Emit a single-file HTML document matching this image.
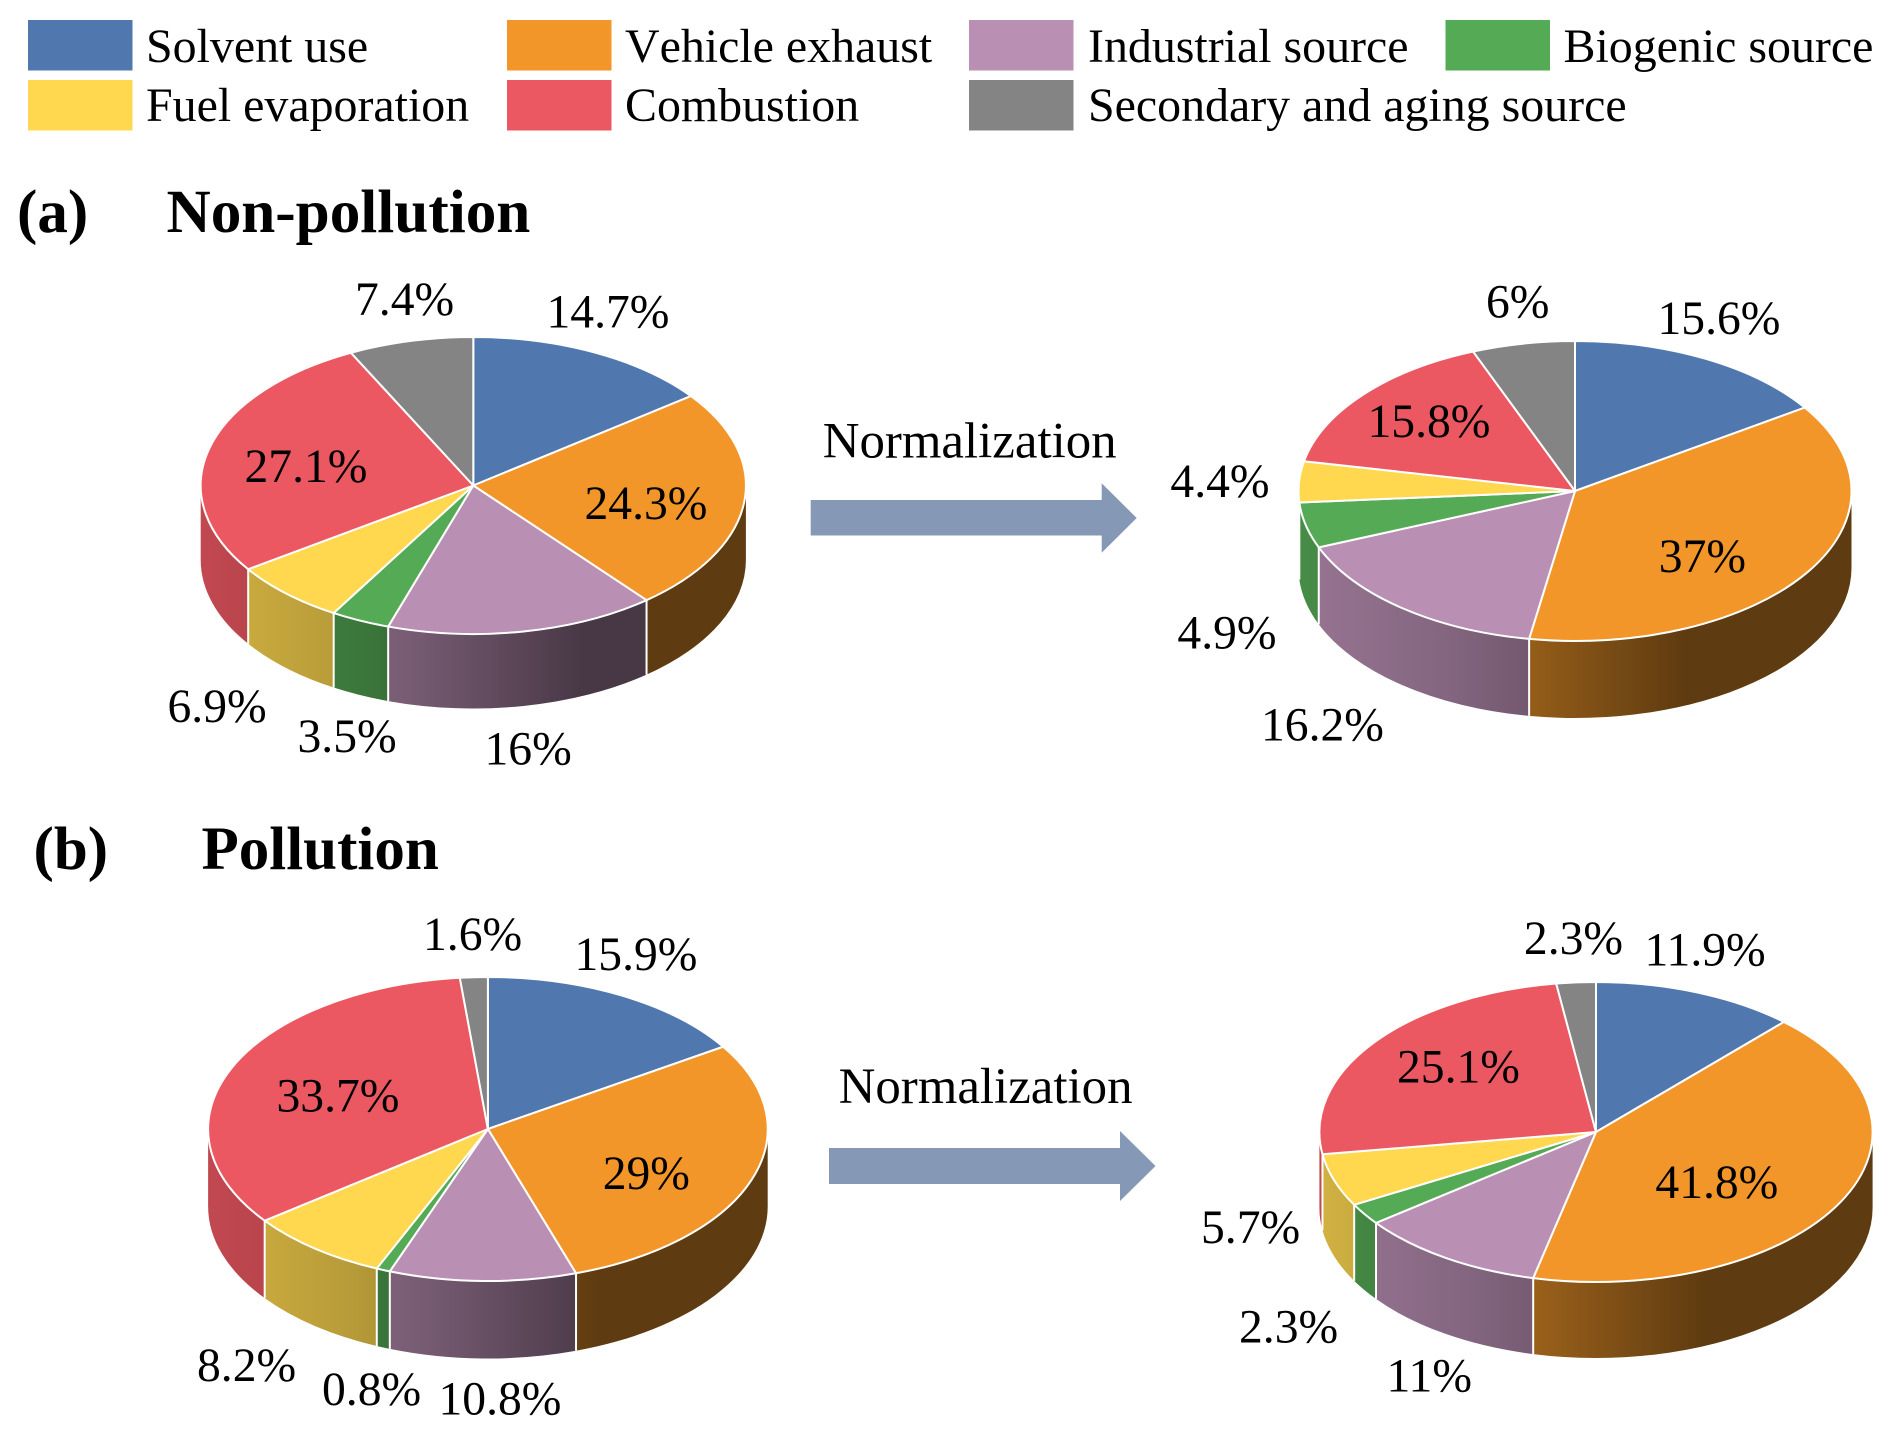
<!DOCTYPE html>
<html lang="en">
<head>
<meta charset="utf-8">
<title>Source contributions: non-pollution and pollution</title>
<style>
  html, body { margin: 0; padding: 0; background: #fff; }
  svg { display: block; }
  text { font-family: "Liberation Serif", "Times New Roman", serif; fill: #000; }
</style>
</head>
<body>
<svg id="chart" xmlns="http://www.w3.org/2000/svg" width="1892" height="1435" viewBox="0 0 1892 1435">
  <rect width="1892" height="1435" fill="#fff"/>
  <g id="legend"></g>

  <text x="17" y="232" font-size="61" font-weight="bold">(a)</text>
  <text x="166.5" y="232" font-size="61.2" font-weight="bold">Non-pollution</text>
  <text x="33.5" y="869" font-size="61" font-weight="bold">(b)</text>
  <text x="201.5" y="869" font-size="61" font-weight="bold">Pollution</text>

  <text x="822.7" y="457.5" font-size="50.9">Normalization</text>
  <polygon points="810.7,500 1101.7,500 1101.7,483.3 1136.7,518 1101.7,552.7 1101.7,535.5 810.7,535.5" fill="#8598b5"/>
  <text x="838.6" y="1103" font-size="50.9">Normalization</text>
  <polygon points="829,1148 1120,1148 1120,1131 1155.5,1166 1120,1201 1120,1184 829,1184" fill="#8598b5"/>

  <defs id="gradients"></defs>
  <g id="pies"></g>
</svg>

<script>
// ---- Data (percent share per source, clockwise from 12 o'clock) ----
const categories = ["Solvent use", "Vehicle exhaust", "Industrial source", "Biogenic source", "Fuel evaporation", "Combustion", "Secondary and aging source"];
const nonPollutionRaw = [14.7, 24.3, 16, 3.5, 6.9, 27.1, 7.4];
const nonPollutionNormalized = [15.6, 37, 16.2, 4.9, 4.4, 15.8, 6];
const pollutionRaw = [15.9, 29, 10.8, 0.8, 8.2, 33.7, 1.6];
const pollutionNormalized = [11.9, 41.8, 11, 2.3, 5.7, 25.1, 2.3];

// ---- Styling and layout ----
const palette = ["#5078ae", "#f2962a", "#b98fb3", "#55ab55", "#ffd84f", "#ec5862", "#848484"];
const legendOrder = [0, 1, 2, 3, 4, 5, 6];
const legendSlots = [
  {sx: 28, sy: 20, tx: 146, ty: 62}, {sx: 507, sy: 20, tx: 625, ty: 62, noKern: true},
  {sx: 969, sy: 20, tx: 1088, ty: 62}, {sx: 1445.5, sy: 20, tx: 1563.5, ty: 62},
  {sx: 28, sy: 80, tx: 146, ty: 121}, {sx: 507, sy: 80, tx: 625, ty: 121},
  {sx: 969, sy: 80, tx: 1088, ty: 121}
];
const shadeStops = [[0, 0.82], [0.25, 0.72], [0.4, 0.63], [0.7, 0.39], [1, 0.39]];

const pieConfigs = [
  {id: "a-raw", values: nonPollutionRaw, cx: 473.3, cy: 485.5, rx: 272.6, ry: 148.5, depth: 74.5,
   labelAt: [[546.5, 327.5], [584.5, 519], [484.5, 764.5], [297.5, 752], [167.5, 722], [244.5, 482], [355, 315]]},
  {id: "a-normalized", values: nonPollutionNormalized, cx: 1575, cy: 491, rx: 276.5, ry: 150, depth: 77,
   labelAt: [[1657.5, 334], [1658.8, 572], [1261, 740.5], [1177.4, 648.5], [1170.4, 497], [1367.5, 437], [1486, 317.5]]},
  {id: "b-raw", values: pollutionRaw, cx: 487.9, cy: 1129, rx: 279.8, ry: 152, depth: 77.5,
   labelAt: [[574.5, 970], [602.7, 1189], [438.5, 1414.7], [322, 1405], [197, 1381], [276.5, 1111.5], [423, 950]]},
  {id: "b-normalized", values: pollutionNormalized, cx: 1596, cy: 1132, rx: 276.6, ry: 150, depth: 76,
   labelAt: [[1644.5, 965.5], [1655.4, 1198], [1386.5, 1391.5], [1239, 1342.7], [1201, 1243], [1397, 1082.6], [1523.9, 954]]}
];

const NS = "http://www.w3.org/2000/svg";
function make(tag, attrs, parent) {
  const el = document.createElementNS(NS, tag);
  for (const k in attrs) el.setAttribute(k, attrs[k]);
  parent.appendChild(el);
  return el;
}
function shadeColor(hex, f) {
  const n = parseInt(hex.slice(1), 16);
  const r = Math.round(((n >> 16) & 255) * f);
  const g = Math.round(((n >> 8) & 255) * f);
  const b = Math.round((n & 255) * f);
  return "rgb(" + r + "," + g + "," + b + ")";
}
function slug(s) { return s.toLowerCase().replace(/[^a-z]+/g, "-"); }

// Legend
const legendGroup = document.getElementById("legend");
legendOrder.forEach(function (catIndex, i) {
  const slot = legendSlots[i];
  const swatch = make("rect", {x: slot.sx, y: slot.sy, width: 104.5, height: 50.5, fill: palette[catIndex]}, legendGroup);
  
  
  const label = make("text", {x: slot.tx, y: slot.ty, "font-size": 47.9}, legendGroup);
  if (slot.noKern) label.style.fontKerning = "none";
  label.textContent = categories[catIndex];
  
  
});

// Pies
const defs = document.getElementById("gradients");
const pieRoot = document.getElementById("pies");

function drawPie(cfg) {
  const g = make("g", {}, pieRoot);
  
  

  const total = cfg.values.reduce(function (a, b) { return a + b; }, 0);
  const angle = function (v) { return v / total * 360; };
  const px = function (t) { return cfg.cx + cfg.rx * Math.sin(t * Math.PI / 180); };
  const py = function (t) { return cfg.cy - cfg.ry * Math.cos(t * Math.PI / 180); };

  const slices = [];
  let cum = 0;
  cfg.values.forEach(function (v, i) {
    const t0 = angle(cum);
    cum += v;
    slices.push({i: i, t0: t0, t1: angle(cum)});
  });

  // Side walls
  slices.forEach(function (s) {
    const a = Math.max(s.t0, 90), b = Math.min(s.t1, 270);
    if (a >= b) return;
    const gradId = "wall-" + cfg.id + "-" + s.i;
    const grad = make("linearGradient", {id: gradId, gradientUnits: "userSpaceOnUse", x1: cfg.cx - cfg.rx, y1: 0, x2: cfg.cx + cfg.rx, y2: 0}, defs);
    shadeStops.forEach(function (st) {
      make("stop", {offset: st[0], "stop-color": shadeColor(palette[s.i], st[1])}, grad);
    });
    const d = "M" + px(a) + " " + py(a) +
      " A" + cfg.rx + " " + cfg.ry + " 0 0 1 " + px(b) + " " + py(b) +
      " L" + px(b) + " " + (py(b) + cfg.depth) +
      " A" + cfg.rx + " " + cfg.ry + " 0 0 0 " + px(a) + " " + (py(a) + cfg.depth) + " Z";
    const wall = make("path", {d: d, fill: "url(#" + gradId + ")"}, g);
    
    
  });

  // White dividers between wall segments
  slices.forEach(function (s) {
    if (s.t1 > 90 && s.t1 < 270) {
      const line = make("line", {x1: px(s.t1), y1: py(s.t1), x2: px(s.t1), y2: py(s.t1) + cfg.depth, stroke: "#fff", "stroke-width": 2}, g);
      
      
    }
  });

  // Top face
  slices.forEach(function (s) {
    const large = (s.t1 - s.t0) > 180 ? 1 : 0;
    const d = "M" + cfg.cx + " " + cfg.cy +
      " L" + px(s.t0) + " " + py(s.t0) +
      " A" + cfg.rx + " " + cfg.ry + " 0 " + large + " 1 " + px(s.t1) + " " + py(s.t1) + " Z";
    const slice = make("path", {d: d, fill: palette[s.i], stroke: "#fff", "stroke-width": 2, "stroke-linejoin": "round"}, g);
    
    
  });

  // Percent labels
  cfg.values.forEach(function (v, i) {
    const at = cfg.labelAt[i];
    const label = make("text", {x: at[0], y: at[1], "font-size": 47.6}, g);
    label.textContent = v + "%";
    
    
  });
}
pieConfigs.forEach(drawPie);
</script>
</body>
</html>
